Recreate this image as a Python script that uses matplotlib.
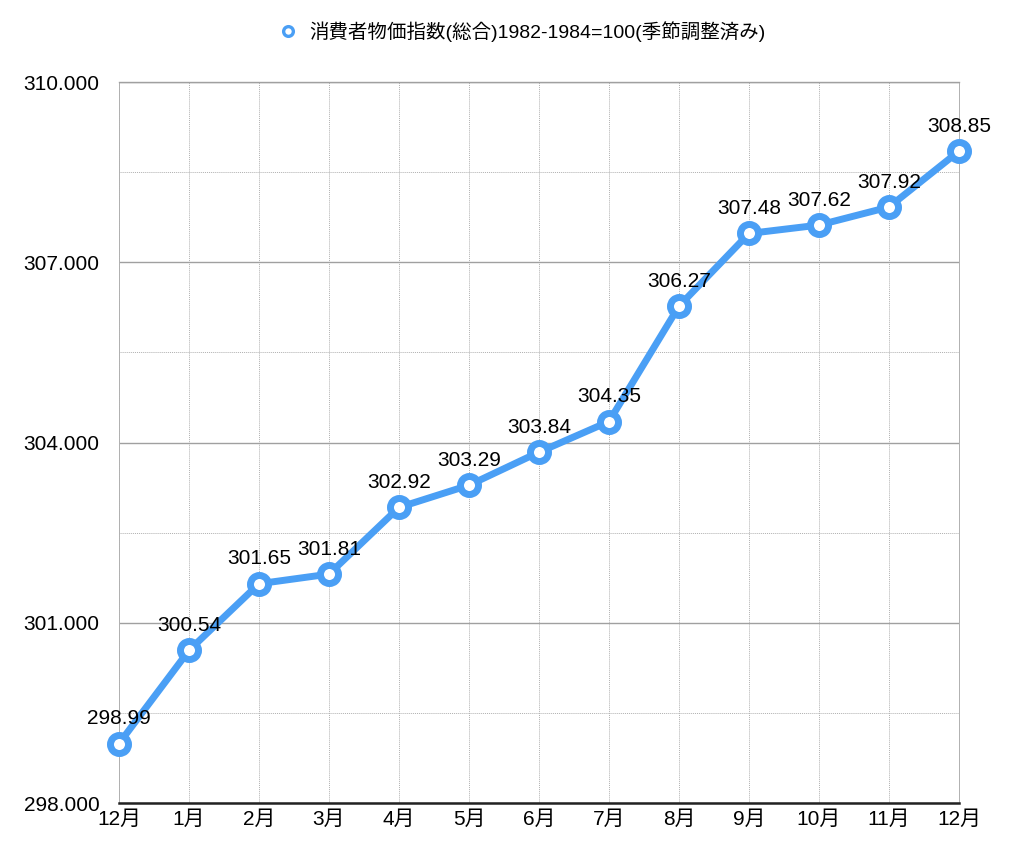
import numpy as np
import matplotlib.pyplot as plt
from matplotlib.ticker import FixedLocator, FormatStrFormatter

plt.rcParams['font.family'] = ['Liberation Sans', 'Noto Sans CJK JP', 'DejaVu Sans']

months = ['12月', '1月', '2月', '3月', '4月', '5月', '6月', '7月', '8月', '9月', '10月', '11月', '12月']
cpi = [298.99, 300.54, 301.65, 301.81, 302.92, 303.29, 303.84, 304.35, 306.27, 307.48, 307.62, 307.92, 308.85]
y_major = [298, 301, 304, 307, 310]
y_minor = [299.5, 302.5, 305.5, 308.5]
series_name = '消費者物価指数(総合)1982-1984=100(季節調整済み)'
blue = '#4a9ff5'

fig = plt.figure(figsize=(10.24, 8.55), dpi=100)
ax = fig.add_axes([0.1162, 0.0608, 0.8203, 0.8432])

x = np.arange(len(months))
ax.plot(x, cpi, color=blue, lw=5, marker='o', ms=13, mfc='white', mec=blue, mew=5,
        label=series_name, zorder=3, clip_on=False)

for xi, v in zip(x, cpi):
    ax.annotate(f'{v:.2f}', (xi, v), xytext=(0, 18), textcoords='offset points',
                ha='center', va='center', fontsize=15, zorder=4)

ax.set_xlim(0, 12)
ax.set_ylim(298, 310)
ax.set_xticks(x)
ax.set_xticklabels(months, fontsize=15)
ax.yaxis.set_major_locator(FixedLocator(y_major))
ax.yaxis.set_minor_locator(FixedLocator(y_minor))
ax.yaxis.set_major_formatter(FormatStrFormatter('%.3f'))
ax.tick_params(axis='y', labelsize=15, length=0, pad=14)
ax.tick_params(axis='x', length=0, pad=5)
ax.tick_params(which='minor', length=0)

ax.grid(axis='y', which='major', color='#a0a0a0', lw=1.0, ls='-')
ax.grid(axis='y', which='minor', color='#b0b0b0', lw=0.7, ls=(0, (1, 1)))
ax.grid(axis='x', color='#b0b0b0', lw=0.7, ls=(0, (1, 1)))
ax.set_axisbelow(True)

for s in ['left', 'right']:
    ax.spines[s].set_color('#b0b0b0')
    ax.spines[s].set_linestyle((0, (1, 1)))
    ax.spines[s].set_linewidth(0.7)
ax.spines['top'].set_color('#a0a0a0')
ax.spines['top'].set_linewidth(1.0)
ax.spines['bottom'].set_color('#222222')
ax.spines['bottom'].set_linewidth(1.8)

leg = fig.legend(loc='center', bbox_to_anchor=(0.51, 0.963), frameon=False, fontsize=14,
                 handlelength=1.0, handletextpad=0.6)
for h in leg.legend_handles:
    h.set_linestyle('none')
    h.set_markersize(7)
    h.set_markeredgewidth(2.4)

fig.savefig('out.png', dpi=100)
